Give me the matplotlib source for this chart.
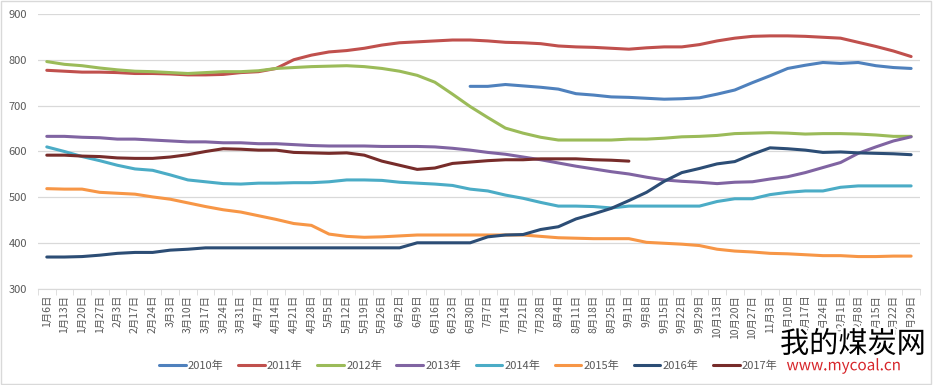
import matplotlib
matplotlib.use('Agg')
import matplotlib.pyplot as plt
import matplotlib.patheffects as pe
from matplotlib.patches import Rectangle

plt.rcParams['font.family'] = ['Noto Sans CJK SC', 'DejaVu Sans']

weeks = ['1月6日', '1月13日', '1月20日', '1月27日', '2月3日', '2月17日', '2月24日',
         '3月3日', '3月10日', '3月17日', '3月24日', '3月31日', '4月7日', '4月14日',
         '4月21日', '4月28日', '5月5日', '5月12日', '5月19日', '5月26日', '6月2日',
         '6月9日', '6月16日', '6月23日', '6月30日', '7月7日', '7月14日', '7月21日',
         '7月28日', '8月4日', '8月11日', '8月18日', '8月25日', '9月1日', '9月8日',
         '9月15日', '9月22日', '9月29日', '10月13日', '10月20日', '10月27日', '11月3日',
         '11月10日', '11月17日', '11月24日', '12月1日', '12月8日', '12月15日',
         '12月22日', '12月29日']

# 2010 starts at 6月30日
y2010 = [None] * 24 + [742, 742, 746, 743, 740, 736, 726, 723, 719, 718, 716, 714,
                       715, 717, 725, 734, 750, 765, 781, 788, 794, 792, 794, 787,
                       783, 781]
y2011 = [777, 775, 773, 773, 772, 770, 770, 769, 767, 767, 768, 772, 774, 781, 800,
         810, 817, 820, 825, 832, 837, 839, 841, 843, 843, 841, 838, 837, 835, 830,
         828, 827, 825, 823, 826, 828, 828, 833, 841, 847, 851, 852, 852, 851, 849,
         847, 838, 829, 819, 807]
y2012 = [796, 790, 787, 782, 778, 775, 774, 772, 770, 772, 774, 774, 776, 781, 783,
         785, 786, 787, 785, 781, 775, 766, 751, 725, 698, 674, 651, 640, 631, 625,
         625, 625, 625, 627, 627, 629, 632, 633, 635, 639, 640, 641, 640, 638, 639,
         639, 638, 636, 633, 633]
y2013 = [633, 633, 631, 630, 627, 627, 625, 623, 621, 621, 619, 619, 617, 617, 615,
         613, 612, 612, 612, 611, 611, 611, 610, 607, 603, 598, 594, 588, 582, 575,
         568, 562, 556, 551, 544, 538, 535, 533, 530, 533, 534, 540, 545, 554, 565,
         576, 596, 610, 623, 632]
y2014 = [610, 600, 589, 580, 570, 562, 559, 549, 538, 534, 530, 529, 531, 531, 532,
         532, 534, 538, 538, 537, 533, 531, 529, 526, 518, 514, 505, 498, 489, 481,
         481, 480, 477, 481, 481, 481, 481, 481, 491, 497, 497, 506, 511, 514, 514,
         522, 525, 525, 525, 525]
y2015 = [519, 518, 518, 511, 509, 507, 501, 496, 488, 480, 473, 468, 460, 452, 443,
         439, 420, 415, 413, 414, 416, 418, 418, 418, 418, 418, 418, 418, 415, 412,
         411, 410, 410, 410, 402, 400, 398, 395, 387, 383, 381, 378, 377, 375, 373,
         373, 371, 371, 372, 372]
y2016 = [370, 370, 371, 374, 378, 380, 380, 385, 387, 390, 390, 390, 390, 390, 390,
         390, 390, 390, 390, 390, 390, 401, 401, 401, 401, 414, 418, 419, 430, 436,
         453, 464, 476, 493, 511, 535, 554, 563, 573, 578, 594, 608, 606, 603, 598,
         599, 597, 596, 595, 593]
# 2017 ends at 9月1日
y2017 = [592, 592, 590, 589, 586, 585, 585, 588, 593, 600, 606, 605, 603, 603, 598,
         597, 596, 597, 592, 579, 570, 561, 564, 574, 577, 580, 582, 582, 584, 584,
         584, 582, 581, 579] + [None] * 16

series = [('2010年', y2010, '#4F81BD'), ('2011年', y2011, '#C0504D'),
          ('2012年', y2012, '#9BBB59'), ('2013年', y2013, '#8064A2'),
          ('2014年', y2014, '#4BACC6'), ('2015年', y2015, '#F79646'),
          ('2016年', y2016, '#2C4D75'), ('2017年', y2017, '#772C2A')]

fig = plt.figure(figsize=(9.33, 3.85), dpi=100)
ax = fig.add_axes([0.0407, 0.249, 0.9453, 0.715])

x = list(range(len(weeks)))
for name, ys, c in series:
    pts = [(i, v) for i, v in zip(x, ys) if v is not None]
    ax.plot([p[0] for p in pts], [p[1] for p in pts], color=c, lw=2.2,
            label=name, solid_capstyle='round', solid_joinstyle='round')

ax.set_xlim(-0.5, len(weeks) - 0.5)
ax.set_ylim(300, 900)
ax.set_yticks(range(300, 901, 100))
ax.grid(axis='y', color='#D9D9D9', lw=0.9)
ax.set_axisbelow(True)
for s in ['top', 'right', 'left']:
    ax.spines[s].set_visible(False)
ax.spines['bottom'].set_color('#D9D9D9')
ax.spines['bottom'].set_zorder(0)

ax.set_xticks(x)
ax.set_xticklabels(weeks, rotation=90, fontsize=7.5, color='#595959')
ax.tick_params(axis='x', which='major', length=0, pad=4)
ax.set_xticks([i + 0.5 for i in range(-1, len(weeks))], minor=True)
ax.tick_params(axis='x', which='minor', length=4, color='#D9D9D9')
ax.tick_params(axis='y', length=0, labelsize=8, labelcolor='#595959', pad=8)

leg = fig.legend(loc='center', bbox_to_anchor=(0.502, 0.05), ncol=8, frameon=False,
                 fontsize=8, handlelength=2.4, handletextpad=0.2, columnspacing=1.3)
for t in leg.get_texts():
    t.set_color('#595959')

# watermark (white halo hides what lies beneath, as in the original)
halo = [pe.withStroke(linewidth=4, foreground='white')]
fig.text(0.836, 0.105, '我的煤炭网', fontsize=21, color='black',
         va='center', ha='left', path_effects=halo, zorder=10)
fig.text(0.843, 0.05, 'www.mycoal.cn', fontsize=11, color='#D7262B',
         va='center', ha='left', path_effects=halo, zorder=10)

fig.patches.append(Rectangle((0.001, 0.002), 0.997, 0.995, transform=fig.transFigure,
                             fill=False, edgecolor='#D9D9D9', lw=1))

fig.savefig('out.png', dpi=100)
